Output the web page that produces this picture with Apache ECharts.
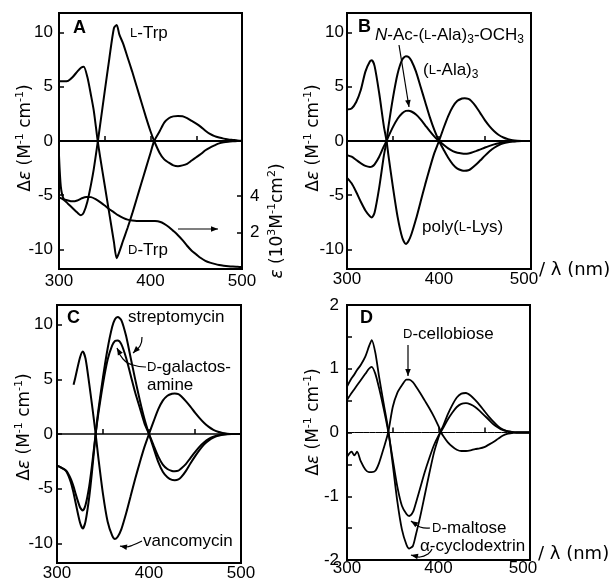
<!DOCTYPE html>
<html><head><meta charset="utf-8">
<script src="https://cdn.jsdelivr.net/npm/echarts@6/dist/echarts.min.js"></script>
<style>html,body{margin:0;padding:0;background:#fff}#c{width:610px;height:586px}</style>
</head><body><div id="c"></div>
<script>
// ---------------- data ----------------
const wlA = [300,305,310,315,320,324,327,331,335,338,342,345,350,355,360,363,366,370,375,380,385,390,395,400,404,410,415,420,425,430,435,440,445,450,455,460,465,470,475,480,485,490,495,500];
const lTrp = [-5.2,-5.4,-5.8,-6.2,-6.6,-6.85,-6.6,-5.6,-4.0,-2.6,-0.3,1.5,4.6,7.6,10.4,10.7,9.8,9.0,7.7,6.4,5.0,3.6,2.2,0.9,0,-1.1,-1.7,-2.0,-2.25,-2.33,-2.25,-2.1,-1.8,-1.5,-1.2,-0.85,-0.6,-0.4,-0.22,-0.12,-0.06,-0.03,-0.01,0];
const dTrp = [5.5,5.5,5.55,5.9,6.4,6.75,6.85,5.9,4.2,2.8,0.2,-1.5,-4.1,-6.7,-9.3,-10.8,-10.2,-9.2,-8.0,-6.7,-5.3,-3.9,-2.5,-1.1,0,0.9,1.7,2.1,2.27,2.3,2.28,2.1,1.85,1.6,1.3,0.95,0.65,0.45,0.32,0.22,0.15,0.1,0.05,0.02];
const wlEps = [300,302,305,310,315,320,325,330,335,340,345,350,355,360,365,370,375,380,385,390,395,400,405,410,415,420,425,430,435,440,445,450,455,460,465,470,475,480,485,490,495,500];
const epsTrp = [6.2,4.5,3.85,3.75,3.7,3.75,3.87,3.94,3.93,3.82,3.66,3.47,3.27,3.1,2.93,2.8,2.7,2.65,2.63,2.63,2.63,2.63,2.62,2.58,2.47,2.3,2.08,1.85,1.58,1.27,1.0,0.8,0.6,0.45,0.35,0.28,0.22,0.18,0.15,0.13,0.12,0.11];

const wlB = [300,305,310,315,320,325,327,330,335,340,343,345,350,355,360,364,367,370,375,380,385,390,395,400,405,410,415,420,425,428,432,435,440,445,450,455,460,465,470,475,480,485,490,495,500];
const polyLys = [2.9,3.0,3.6,4.7,6.4,7.35,7.45,6.9,4.4,1.4,0,-1.3,-4.3,-7.0,-8.9,-9.5,-9.2,-8.6,-7.2,-5.6,-4.0,-2.5,-1.1,0,1.2,2.3,3.15,3.7,3.92,3.95,3.88,3.7,3.2,2.55,1.9,1.35,0.9,0.55,0.32,0.17,0.08,0.03,0.01,0,0];
const lAla3 = [-3.4,-3.9,-4.7,-5.6,-6.4,-6.95,-7.05,-6.6,-4.3,-1.4,0,1.3,4.0,6.2,7.5,7.82,7.75,7.4,6.4,5.0,3.6,2.2,1.0,0,-0.8,-1.55,-2.15,-2.55,-2.72,-2.75,-2.7,-2.55,-2.2,-1.78,-1.35,-0.95,-0.62,-0.38,-0.22,-0.12,-0.05,-0.02,0,0,0];
const nAcAla3 = [-1.3,-1.45,-1.75,-2.05,-2.3,-2.4,-2.37,-2.15,-1.45,-0.5,0,0.4,1.3,2.05,2.55,2.78,2.8,2.72,2.45,2.0,1.45,0.9,0.4,0,-0.35,-0.68,-0.93,-1.08,-1.15,-1.17,-1.15,-1.08,-0.93,-0.77,-0.6,-0.45,-0.31,-0.2,-0.12,-0.06,-0.03,-0.01,0,0,0];

const wlC = [300,305,310,315,318,320,325,328,331,335,338,342,345,350,355,360,363,366,370,375,380,385,390,395,400,405,410,415,420,425,428,432,435,440,445,450,455,460,465,470,475,480,485,490,495,500];
const strepto = [-2.9,-3.1,-3.4,-4.4,-5.4,-6.2,-8.1,-8.65,-8.0,-5.8,-3.5,0,2.2,5.2,7.8,9.8,10.5,10.7,10.4,9.0,7.0,5.0,3.1,1.4,0,-1.3,-2.55,-3.45,-3.95,-4.2,-4.22,-4.15,-3.95,-3.4,-2.7,-2.05,-1.45,-0.95,-0.58,-0.33,-0.17,-0.07,-0.02,0,0,0];
const galacto = [-2.9,-3.1,-3.35,-4.1,-4.8,-5.4,-6.7,-7.0,-6.5,-4.8,-2.9,0,1.9,4.6,6.8,8.1,8.5,8.55,8.2,7.0,5.4,3.8,2.4,1.0,0,-1.05,-2.05,-2.8,-3.2,-3.38,-3.4,-3.35,-3.15,-2.75,-2.2,-1.65,-1.15,-0.75,-0.45,-0.25,-0.12,-0.05,-0.01,0,0,0];
const vanco = [null,null,null,null,4.5,5.2,7.0,7.55,6.9,4.6,2.7,0,-2.2,-5.5,-8.0,-9.3,-9.6,-9.4,-8.7,-7.3,-5.7,-4.1,-2.6,-1.2,0,1.15,2.25,3.05,3.5,3.68,3.7,3.65,3.45,3.0,2.5,1.95,1.45,1.0,0.65,0.38,0.2,0.09,0.03,0,0,0];

const wlD = [300,305,308,311,315,320,324,327,331,335,340,345,350,355,360,365,368,372,375,380,385,390,395,400,403,405,410,415,420,425,430,435,440,445,450,455,460,465,470,475,480,485,490,495,500];
const cello = [-0.38,-0.3,-0.36,-0.3,-0.45,-0.58,-0.62,-0.62,-0.6,-0.48,-0.25,0,0.4,0.62,0.74,0.83,0.83,0.79,0.73,0.62,0.5,0.38,0.25,0.1,0,-0.05,-0.15,-0.22,-0.27,-0.29,-0.29,-0.28,-0.26,-0.25,-0.23,-0.19,-0.15,-0.1,-0.05,-0.02,-0.01,0,0,0,0];
const maltose = [0.51,0.62,0.68,0.74,0.82,0.92,1.0,1.03,0.92,0.7,0.38,0.02,-0.42,-0.85,-1.15,-1.28,-1.31,-1.25,-1.12,-0.87,-0.62,-0.4,-0.2,-0.05,0.02,0.07,0.2,0.31,0.4,0.45,0.46,0.44,0.4,0.34,0.27,0.2,0.13,0.08,0.04,0.02,0.01,0,0,0,0];
const aCD = [0.72,0.85,0.91,0.98,1.06,1.19,1.35,1.45,1.25,0.88,0.46,0.05,-0.5,-1.08,-1.52,-1.76,-1.82,-1.78,-1.62,-1.32,-0.98,-0.64,-0.32,-0.08,0.04,0.1,0.28,0.43,0.55,0.61,0.62,0.58,0.51,0.43,0.34,0.25,0.17,0.1,0.05,0.02,0.01,0,0,0,0];

const zeroWl = [300, 500];
const zeroVal = [0, 0];
const xLabelVals = [300, 400, 500];
const xTickVals = [350, 400, 450];
const yVals = [-10, -5, 0, 5, 10];
const yLabelValsD = [-2, -1, 0, 1, 2];
const yTickValsD = [-1.5, -1, -0.5, 0, 0.5, 1, 1.5];
const epsVals = [2, 4];

// ---------------- helpers ----------------
const SANS = 'Liberation Sans';
const pairs = (xs, ys) => xs.map((x, i) => [x, ys[i]]).filter(p => p[1] !== null);
const grids = [
  {left: 59, top: 13, width: 183, height: 256},
  {left: 347, top: 13, width: 184, height: 256},
  {left: 57, top: 305, width: 184, height: 258},
  {left: 347, top: 305, width: 183, height: 255}
].map(g => Object.assign({show: true, borderColor: '#000', borderWidth: 2, backgroundColor: 'transparent'}, g));

function xAx(gi, margin, shiftLast) {
  return {
    type: 'value', gridIndex: gi, min: 300, max: 500,
    axisLine: {show: false}, splitLine: {show: false},
    axisTick: {inside: true, length: 5, customValues: xTickVals, lineStyle: {color: '#000', width: 1.5}},
    axisLabel: {
      customValues: xLabelVals, margin: margin, color: '#000', fontFamily: SANS, fontSize: 17,
      formatter: v => (shiftLast && v === 500) ? '{r|500}' : String(v),
      rich: {r: {fontFamily: SANS, fontSize: 17, color: '#000', padding: [0, 14, 0, 0]}}
    }
  };
}
function yAx(gi, min, max, labels, ticks, margin, pos) {
  return {
    type: 'value', gridIndex: gi, min: min, max: max, position: pos || 'left',
    axisLine: {show: false}, splitLine: {show: false},
    axisTick: {inside: true, length: 5, customValues: ticks, lineStyle: {color: '#000', width: 1.5}},
    axisLabel: {customValues: labels, margin: margin, color: '#000', fontFamily: SANS, fontSize: 17}
  };
}
function line(xi, yi, xs, ys, w) {
  return {
    type: 'line', xAxisIndex: xi, yAxisIndex: yi, data: pairs(xs, ys),
    showSymbol: false, smooth: 0.25, silent: true,
    lineStyle: {color: '#000', width: w || 2}
  };
}

const annRich = {
  n: {fontFamily: SANS, fontSize: 17, lineHeight: 22, fill: '#000'},
  sc: {fontFamily: SANS, fontSize: 13, lineHeight: 22, fill: '#000'},
  i: {fontFamily: SANS, fontSize: 17, fontStyle: 'italic', lineHeight: 22, fill: '#000'},
  sub: {fontFamily: SANS, fontSize: 12, lineHeight: 12, verticalAlign: 'bottom', fill: '#000'},
  b: {fontFamily: SANS, fontSize: 18, fontWeight: 'bold', lineHeight: 22, fill: '#000'}
};
const titleRich = {
  n: {fontFamily: 'DejaVu Sans', fontSize: 17, lineHeight: 22, fill: '#000'},
  i: {fontFamily: 'DejaVu Sans', fontSize: 17, fontStyle: 'italic', lineHeight: 22, fill: '#000'},
  sup: {fontFamily: 'DejaVu Sans', fontSize: 11, lineHeight: 11, verticalAlign: 'top', fill: '#000'},
  l: {fontFamily: 'DejaVu Sans', fontSize: 18, lineHeight: 22, fill: '#000'}
};
function txt(x, y, text, rich, extra) {
  return Object.assign({
    type: 'text', x: x, y: y, silent: true,
    style: {text: text, rich: rich || annRich, fill: '#000', align: 'left', verticalAlign: 'middle',
            textAlign: 'left', textVerticalAlign: 'middle'}
  }, extra || {});
}
function vtitle(x, y, text) {
  return {
    type: 'text', x: x, y: y, rotation: Math.PI / 2, silent: true,
    style: {text: text, rich: titleRich, fill: '#000', align: 'center', verticalAlign: 'middle',
            textAlign: 'center', textVerticalAlign: 'middle'}
  };
}
function arrow(pts, smooth) {
  const t = pts[pts.length - 1], f = pts[pts.length - 2];
  const dx = t[0] - f[0], dy = t[1] - f[1], L = Math.hypot(dx, dy);
  const ux = dx / L, uy = dy / L, len = 7, half = 2.8;
  const bx = t[0] - ux * len, by = t[1] - uy * len;
  return [
    {type: 'polyline', silent: true, shape: {points: pts, smooth: smooth || 0},
     style: {stroke: '#000', lineWidth: 1.2, fill: null}},
    {type: 'polygon', silent: true,
     shape: {points: [t, [bx - uy * half, by + ux * half], [bx + uy * half, by - ux * half]]},
     style: {fill: '#000'}}
  ];
}

const deTitle = '{n|Δ}{i|ε}{n| (M}{sup|-1}{n| cm}{sup|-1}{n|)}';
const epsTitle = '{i|ε}{n| (10}{sup|3}{n|M}{sup|-1}{n|cm}{sup|2}{n|)}';
const lamTitle = '{l|/ λ (nm)}';

const graphics = [].concat(
  [
    txt(73, 28, '{b|A}'), txt(358, 27, '{b|B}'), txt(67, 318, '{b|C}'), txt(360, 318, '{b|D}'),
    txt(130, 33, '{sc|L}{n|-Trp}'),
    txt(128, 250, '{sc|D}{n|-Trp}'),
    txt(375, 35, '{i|N}{n|-Ac-(}{sc|L}{n|-Ala)}{sub|3}{n|-OCH}{sub|3}'),
    txt(423, 70, '{n|(}{sc|L}{n|-Ala)}{sub|3}'),
    txt(422, 227, '{n|poly(}{sc|L}{n|-Lys)}'),
    txt(128, 317, '{n|streptomycin}'),
    txt(147, 367, '{sc|D}{n|-galactos-}'),
    txt(147, 385, '{n|amine}'),
    txt(143, 541, '{n|vancomycin}'),
    txt(403, 334, '{sc|D}{n|-cellobiose}'),
    txt(432, 528, '{sc|D}{n|-maltose}'),
    txt(420, 546, '{n|α-cyclodextrin}'),
    vtitle(26, 138, deTitle),
    vtitle(314, 138, deTitle),
    vtitle(25, 427, deTitle),
    vtitle(314, 422, deTitle),
    vtitle(278, 221, epsTitle),
    txt(539, 270, lamTitle, titleRich),
    txt(538, 554, lamTitle, titleRich)
  ],
  arrow([[178, 229], [218, 229]]),
  arrow([[399, 45], [409, 107]]),
  arrow([[142, 337], [140, 346], [133, 353]], 0.5),
  arrow([[146, 367], [133, 365], [123, 359], [117, 348]], 0.5),
  arrow([[142, 541], [133, 545], [126, 547], [120, 546]], 0.5),
  arrow([[408, 345], [408, 376]]),
  arrow([[430, 528], [420, 527], [411, 521]], 0.5),
  arrow([[432, 549], [428, 554], [420, 557], [411, 555]], 0.5)
);

const chart = echarts.init(document.getElementById('c'), null, {renderer: 'canvas'});
chart.setOption({
  animation: false,
  backgroundColor: '#fff',
  grid: grids,
  xAxis: [xAx(0, 4, false), xAx(1, 2, true), xAx(2, 2, false), xAx(3, 0, true)],
  yAxis: [
    yAx(0, -11.8, 11.8, yVals, yVals, 6),
    yAx(0, 0, 14, epsVals, epsVals, 8, 'right'),
    yAx(1, -11.8, 11.8, yVals, yVals, 3),
    yAx(2, -11.8, 11.8, yVals, yVals, 4),
    yAx(3, -2, 2, yLabelValsD, yTickValsD, 8)
  ],
  series: [
    line(0, 0, zeroWl, zeroVal, 2),
    line(0, 0, wlA, lTrp), line(0, 0, wlA, dTrp), line(0, 1, wlEps, epsTrp),
    line(1, 2, zeroWl, zeroVal, 2),
    line(1, 2, wlB, polyLys), line(1, 2, wlB, lAla3), line(1, 2, wlB, nAcAla3),
    line(2, 3, zeroWl, zeroVal, 1.5),
    line(2, 3, wlC, strepto), line(2, 3, wlC, galacto), line(2, 3, wlC, vanco),
    line(3, 4, zeroWl, zeroVal, 1),
    line(3, 4, wlD, cello, 1.8), line(3, 4, wlD, maltose, 1.8), line(3, 4, wlD, aCD, 1.8)
  ],
  graphic: graphics
});
</script></body></html>
